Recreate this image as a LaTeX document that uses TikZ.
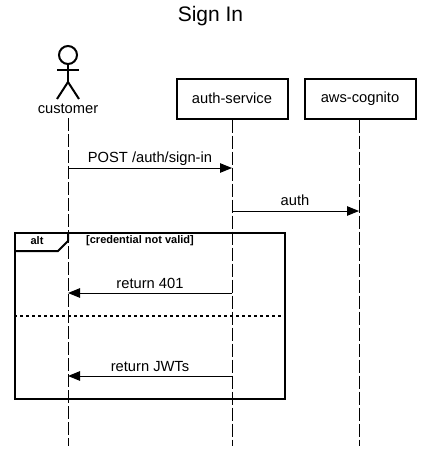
\documentclass[tikz,border=0pt]{standalone}
\usepackage{fontspec}
\setmainfont{Liberation Sans}
\usepackage{tikz}
\usetikzlibrary{arrows.meta,positioning,calc}
\tikzset{
  lifebox/.style={draw, line width=2pt, minimum width=111pt, minimum height=40pt, inner sep=0pt, font=\fontsize{14.7}{16}\selectfont},
  lifeline/.style={line width=1pt, dash pattern=on 13pt off 3pt},
  msg/.style={-{Triangle[length=12pt,width=9.5pt]}, line width=1pt},
  msglabel/.style={font=\fontsize{14.7}{16}\selectfont, inner sep=0pt, anchor=base},
  stick/.style={line width=2pt}
}
\begin{document}
\begin{tikzpicture}[x=1pt, y=-1pt, node distance=15pt]
  \useasboundingbox (0,0) rectangle (421,451);
  \node[font=\fontsize{21}{24}\selectfont, inner sep=0pt] (title) at (210.5,16) {Sign In};
  \node[lifebox] (service) at (232,98.5) {auth-service};
  \node[lifebox, right=of service] (cognito) {aws-cognito};
  % actor
  \node[draw, circle, line width=2pt, minimum size=18pt, inner sep=0pt] (head) at (68,55) {};
  \coordinate (hip) at (68,82);
  \coordinate (armleft) at (57,70);
  \coordinate (armright) at (79,70);
  \coordinate (footleft) at (57,99);
  \coordinate (footright) at (79,99);
  \draw[stick] (head) -- (hip);
  \draw[stick] (armleft) -- (armright);
  \draw[stick] (footleft) -- (hip) -- (footright);
  \node[font=\fontsize{14.7}{16}\selectfont, inner sep=0pt] (customer) at (68,109) {customer};
  % lifelines
  \coordinate (customerend) at (68,446);
  \coordinate (serviceend) at (232,446);
  \coordinate (cognitoend) at (359,446);
  \draw[lifeline] (customer.south -| customerend) ++(0,4) -- (customerend);
  \draw[lifeline] (service) -- (serviceend);
  \draw[lifeline] (cognito.south -| cognitoend) -- (cognitoend);
  % frame
  \node[draw, line width=2pt, minimum width=270pt, minimum height=166pt, inner sep=0pt] (frame) at (150,316) {};
  \coordinate (tabbottom) at (15,251);
  \coordinate (tabcorner) at (58,251);
  \coordinate (tabslant) at (68,241);
  \coordinate (tabtop) at (68,233);
  \draw[line width=2pt] (tabbottom) -- (tabcorner) -- (tabslant) -- (tabtop);
  \node[font=\fontsize{11}{13}\bfseries\selectfont, inner sep=0pt] (alt) at (37,241) {alt};
  \node[font=\fontsize{11}{13}\bfseries\selectfont, inner sep=0pt] (guard) at (140,241) {[credential not valid]};
  \draw[line width=2pt, dash pattern=on 3pt off 3pt] (frame.west) -- (frame.east);
  % messages
  \coordinate (signinfrom) at (68,168);
  \coordinate (signinto) at (232,168);
  \coordinate (authfrom) at (232,211);
  \coordinate (authto) at (359,211);
  \coordinate (rejectfrom) at (232,293);
  \coordinate (rejectto) at (68,293);
  \coordinate (jwtfrom) at (232,376);
  \coordinate (jwtto) at (68,376);
  \draw[msg] (signinfrom) -- (signinto);
  \draw[msg] (authfrom) -- (authto);
  \draw[msg] (rejectfrom) -- (rejectto);
  \draw[msg] (jwtfrom) -- (jwtto);
  \node[msglabel] (signinlabel) at (150,162) {POST /auth/sign-in};
  \node[msglabel] (authlabel) at (295,205) {auth};
  \node[msglabel] (rejectlabel) at (150,288) {return 401};
  \node[msglabel] (jwtlabel) at (150,371) {return JWTs};
\end{tikzpicture}
\end{document}
